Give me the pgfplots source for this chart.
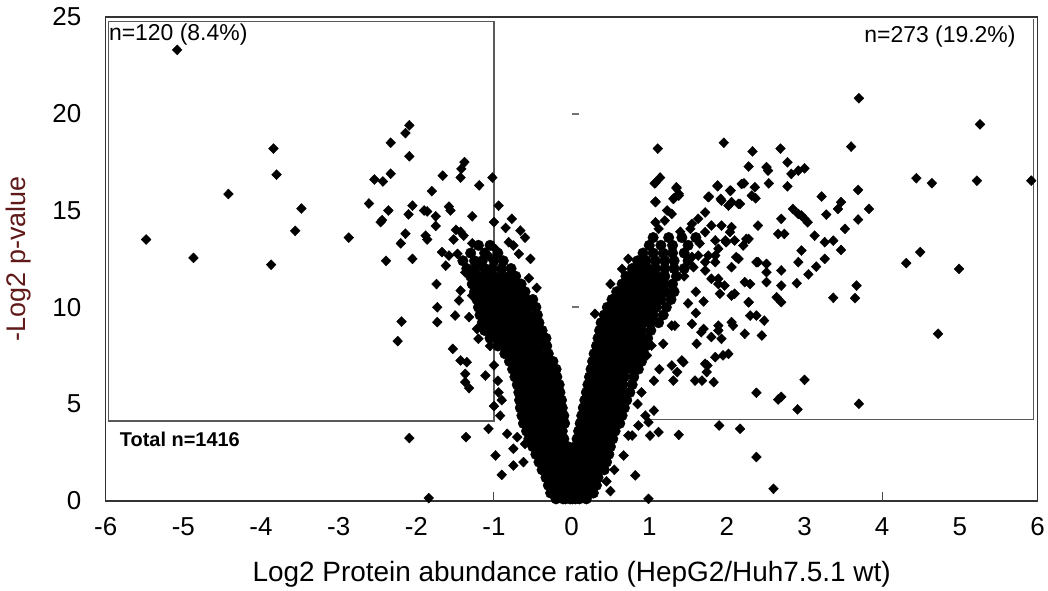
\documentclass[border=0pt]{standalone}
\usepackage{fontspec}
\setmainfont{Liberation Sans}
\usepackage{pgfplots}
\pgfplotsset{compat=1.18}
\definecolor{ylab}{RGB}{95,25,25}
\pgfplotsset{
 scat/.style={only marks, mark=diamond*, mark size=5pt, mark options={xscale=1.3, fill=black, draw=black, line width=0.4pt}},
 core/.style={only marks, mark=*, mark size=5.3pt, mark options={fill=black, draw=black, line width=0.4pt}},
}
\begin{document}
\begin{tikzpicture}
\begin{axis}[
 scale only axis, width=934pt, height=485pt,
 xmin=-6,xmax=6,ymin=0,ymax=25,
 xtick={-6,-5,-4,-3,-2,-1,0,1,2,3,4,5,6}, ytick={0,5,10,15,20,25},
 major tick length=0pt,
 /pgf/number format/assume math mode=true,
 ticklabel style={font=\fontsize{26}{26}\selectfont},
 yticklabel style={xshift=-21pt},
 xticklabel style={yshift=-13pt},
 xlabel={Log2 Protein abundance ratio (HepG2/Huh7.5.1 wt)},
 ylabel={-Log2 p-value},
 label style={font=\fontsize{28}{28}\selectfont},
 xlabel style={at={(axis description cs:0.5,-0.152)}, anchor=center},
 ylabel style={at={(axis description cs:-0.094,0.5)}, anchor=center, color=ylab, font=\fontsize{27}{27}\selectfont},
 axis line style={draw=black!80, line width=1.5pt},
 clip=false,
]
\draw[black!65, line width=1.1pt] (axis cs:-5.965,4.12) -- (axis cs:-1,4.12) -- (axis cs:-1,24.78) -- (axis cs:-5.965,24.78) -- cycle;
\draw[black!65, line width=1.1pt] (axis cs:1,4.2) -- (axis cs:5.95,4.2) -- (axis cs:5.95,24.9);
\draw[black!55, line width=2pt] (axis cs:0.0,20) -- (axis cs:0.1,20);
\draw[black!55, line width=2pt] (axis cs:0.0,10) -- (axis cs:0.1,10);
\draw[black!70, line width=1pt] (axis cs:-1,0) -- (axis cs:-1,0.45);
\draw[black!70, line width=1pt] (axis cs:4,0) -- (axis cs:4,0.45);
\node[anchor=west, inner sep=0pt, font=\fontsize{23}{23}\selectfont] at (axis cs:-5.96,24.1) {n=120 (8.4\%)};
\node[anchor=east, inner sep=0pt, font=\fontsize{23}{23}\selectfont] at (axis cs:5.72,24.0) {n=273 (19.2\%)};
\node[anchor=west, inner sep=0pt, font=\bfseries\fontsize{20}{20}\selectfont] at (axis cs:-5.82,3.15) {Total n=1416};
% left core
\addplot[core] coordinates {
(-0.2,0.1)(-0.11,0.1)(-0.02,0.1)(0.05,0.1)
(-0.27,0.4)(-0.18,0.4)(-0.09,0.4)(0.0,0.4)
(-0.3,0.8)(-0.21,0.8)(-0.12,0.8)(-0.03,0.8)(0.04,0.8)
(-0.33,1.2)(-0.24,1.2)(-0.15,1.2)(-0.06,1.2)(0.02,1.2)
(-0.38,1.6)(-0.29,1.6)(-0.2,1.6)(-0.11,1.6)(-0.03,1.6)
(-0.42,2.0)(-0.33,2.0)(-0.24,2.0)(-0.15,2.0)(-0.06,2.0)
(-0.46,2.4)(-0.37,2.4)(-0.28,2.4)(-0.19,2.4)(-0.1,2.4)(-0.03,2.4)
(-0.5,2.8)(-0.41,2.8)(-0.32,2.8)(-0.23,2.8)(-0.14,2.8)(-0.05,2.8)
(-0.55,3.2)(-0.46,3.2)(-0.37,3.2)(-0.28,3.2)(-0.19,3.2)(-0.1,3.2)
(-0.58,3.6)(-0.49,3.6)(-0.4,3.6)(-0.31,3.6)(-0.22,3.6)(-0.12,3.6)
(-0.62,4.0)(-0.53,4.0)(-0.44,4.0)(-0.35,4.0)(-0.26,4.0)(-0.17,4.0)(-0.09,4.0)
(-0.64,4.4)(-0.55,4.4)(-0.46,4.4)(-0.37,4.4)(-0.28,4.4)(-0.19,4.4)(-0.1,4.4)
(-0.66,4.8)(-0.57,4.8)(-0.48,4.8)(-0.39,4.8)(-0.3,4.8)(-0.21,4.8)(-0.12,4.8)
(-0.67,5.2)(-0.58,5.2)(-0.49,5.2)(-0.4,5.2)(-0.31,5.2)(-0.22,5.2)(-0.13,5.2)
(-0.68,5.6)(-0.59,5.6)(-0.5,5.6)(-0.41,5.6)(-0.32,5.6)(-0.23,5.6)(-0.15,5.6)
(-0.7,6.0)(-0.61,6.0)(-0.52,6.0)(-0.43,6.0)(-0.34,6.0)(-0.25,6.0)(-0.16,6.0)
(-0.73,6.4)(-0.64,6.4)(-0.55,6.4)(-0.46,6.4)(-0.37,6.4)(-0.28,6.4)(-0.19,6.4)
(-0.76,6.8)(-0.67,6.8)(-0.58,6.8)(-0.49,6.8)(-0.4,6.8)(-0.31,6.8)(-0.2,6.8)
(-0.8,7.2)(-0.71,7.2)(-0.62,7.2)(-0.53,7.2)(-0.44,7.2)(-0.35,7.2)(-0.24,7.2)
(-0.86,7.6)(-0.77,7.6)(-0.68,7.6)(-0.59,7.6)(-0.5,7.6)(-0.41,7.6)(-0.3,7.6)
(-0.95,8.0)(-0.86,8.0)(-0.77,8.0)(-0.68,8.0)(-0.59,8.0)(-0.5,8.0)(-0.41,8.0)(-0.32,8.0)
(-1.05,8.4)(-0.96,8.4)(-0.87,8.4)(-0.78,8.4)(-0.69,8.4)(-0.6,8.4)(-0.51,8.4)(-0.42,8.4)(-0.33,8.4)
(-1.12,8.8)(-1.03,8.8)(-0.94,8.8)(-0.85,8.8)(-0.76,8.8)(-0.67,8.8)(-0.58,8.8)(-0.49,8.8)(-0.38,8.8)
(-1.15,9.2)(-1.06,9.2)(-0.97,9.2)(-0.88,9.2)(-0.79,9.2)(-0.7,9.2)(-0.61,9.2)(-0.52,9.2)(-0.42,9.2)
(-1.18,9.6)(-1.09,9.6)(-1.0,9.6)(-0.91,9.6)(-0.82,9.6)(-0.73,9.6)(-0.64,9.6)(-0.55,9.6)(-0.44,9.6)
(-1.2,10.0)(-1.11,10.0)(-1.02,10.0)(-0.93,10.0)(-0.84,10.0)(-0.75,10.0)(-0.66,10.0)(-0.57,10.0)(-0.46,10.0)
(-1.22,10.4)(-1.13,10.4)(-1.04,10.4)(-0.95,10.4)(-0.86,10.4)(-0.77,10.4)(-0.68,10.4)(-0.59,10.4)(-0.5,10.4)
(-1.25,10.8)(-1.16,10.8)(-1.07,10.8)(-0.98,10.8)(-0.89,10.8)(-0.8,10.8)(-0.71,10.8)(-0.6,10.8)
(-1.28,11.2)(-1.19,11.2)(-1.1,11.2)(-1.01,11.2)(-0.92,11.2)(-0.83,11.2)(-0.74,11.2)(-0.65,11.2)
(-1.3,11.6)(-1.2,11.6)(-1.1,11.6)(-1.0,11.6)(-0.9,11.6)(-0.8,11.6)(-0.72,11.6)
(-1.35,12.0)(-1.24,12.0)(-1.12,12.0)(-1.02,12.0)(-0.9,12.0)(-0.78,12.0)
(-1.4,12.4)(-1.25,12.4)(-1.15,12.4)(-1.0,12.4)(-0.88,12.4)
(-1.3,12.8)(-1.12,12.8)(-0.95,12.8)
(-1.2,13.2)(-1.05,13.2)
};
% right core
\addplot[core] coordinates {
(-0.08,0.1)(0.01,0.1)(0.1,0.1)(0.19,0.1)
(-0.05,0.4)(0.04,0.4)(0.13,0.4)(0.22,0.4)(0.28,0.4)
(-0.04,0.8)(0.05,0.8)(0.14,0.8)(0.23,0.8)(0.32,0.8)
(-0.02,1.2)(0.07,1.2)(0.16,1.2)(0.25,1.2)(0.34,1.2)
(0.0,1.6)(0.09,1.6)(0.18,1.6)(0.27,1.6)(0.36,1.6)(0.42,1.6)
(0.02,2.0)(0.11,2.0)(0.2,2.0)(0.29,2.0)(0.38,2.0)(0.45,2.0)
(0.04,2.4)(0.13,2.4)(0.22,2.4)(0.31,2.4)(0.4,2.4)(0.48,2.4)
(0.05,2.8)(0.14,2.8)(0.23,2.8)(0.32,2.8)(0.41,2.8)(0.5,2.8)
(0.07,3.2)(0.16,3.2)(0.25,3.2)(0.34,3.2)(0.43,3.2)(0.53,3.2)
(0.09,3.6)(0.18,3.6)(0.27,3.6)(0.36,3.6)(0.45,3.6)(0.56,3.6)
(0.11,4.0)(0.2,4.0)(0.29,4.0)(0.38,4.0)(0.47,4.0)(0.56,4.0)(0.62,4.0)
(0.13,4.4)(0.22,4.4)(0.31,4.4)(0.4,4.4)(0.49,4.4)(0.58,4.4)(0.65,4.4)
(0.15,4.8)(0.24,4.8)(0.33,4.8)(0.42,4.8)(0.51,4.8)(0.6,4.8)(0.68,4.8)
(0.17,5.2)(0.26,5.2)(0.35,5.2)(0.44,5.2)(0.53,5.2)(0.62,5.2)(0.71,5.2)
(0.19,5.6)(0.28,5.6)(0.37,5.6)(0.46,5.6)(0.55,5.6)(0.64,5.6)(0.75,5.6)
(0.21,6.0)(0.3,6.0)(0.39,6.0)(0.48,6.0)(0.57,6.0)(0.66,6.0)(0.78,6.0)
(0.23,6.4)(0.32,6.4)(0.41,6.4)(0.5,6.4)(0.59,6.4)(0.68,6.4)(0.8,6.4)
(0.25,6.8)(0.34,6.8)(0.43,6.8)(0.52,6.8)(0.61,6.8)(0.7,6.8)(0.79,6.8)(0.86,6.8)
(0.27,7.2)(0.36,7.2)(0.45,7.2)(0.54,7.2)(0.63,7.2)(0.72,7.2)(0.81,7.2)(0.9,7.2)
(0.29,7.6)(0.38,7.6)(0.47,7.6)(0.56,7.6)(0.65,7.6)(0.74,7.6)(0.83,7.6)(0.93,7.6)
(0.32,8.0)(0.41,8.0)(0.5,8.0)(0.59,8.0)(0.68,8.0)(0.77,8.0)(0.86,8.0)(0.96,8.0)
(0.34,8.4)(0.43,8.4)(0.52,8.4)(0.61,8.4)(0.7,8.4)(0.79,8.4)(0.88,8.4)(0.98,8.4)
(0.36,8.8)(0.45,8.8)(0.54,8.8)(0.63,8.8)(0.72,8.8)(0.81,8.8)(0.9,8.8)(1.02,8.8)
(0.38,9.2)(0.47,9.2)(0.56,9.2)(0.65,9.2)(0.74,9.2)(0.83,9.2)(0.92,9.2)(1.01,9.2)(1.12,9.2)
(0.42,9.6)(0.51,9.6)(0.6,9.6)(0.69,9.6)(0.78,9.6)(0.87,9.6)(0.96,9.6)(1.05,9.6)(1.18,9.6)
(0.46,10.0)(0.55,10.0)(0.64,10.0)(0.73,10.0)(0.82,10.0)(0.91,10.0)(1.0,10.0)(1.09,10.0)(1.22,10.0)
(0.52,10.4)(0.61,10.4)(0.7,10.4)(0.79,10.4)(0.88,10.4)(0.97,10.4)(1.06,10.4)(1.15,10.4)(1.28,10.4)
(0.58,10.8)(0.67,10.8)(0.76,10.8)(0.85,10.8)(0.94,10.8)(1.03,10.8)(1.12,10.8)(1.21,10.8)(1.32,10.8)
(0.65,11.2)(0.74,11.2)(0.83,11.2)(0.92,11.2)(1.01,11.2)(1.1,11.2)(1.19,11.2)(1.3,11.2)
(0.7,11.6)(0.8,11.6)(0.9,11.6)(1.0,11.6)(1.1,11.6)(1.2,11.6)(1.35,11.6)
(0.78,12.0)(0.88,12.0)(0.98,12.0)(1.08,12.0)(1.2,12.0)(1.32,12.0)(1.45,12.0)
(0.85,12.4)(0.96,12.4)(1.08,12.4)(1.2,12.4)(1.32,12.4)(1.5,12.4)
(0.92,12.8)(1.05,12.8)(1.18,12.8)(1.3,12.8)(1.45,12.8)
(1.0,13.2)(1.15,13.2)(1.3,13.2)(1.5,13.2)
(1.05,13.6)(1.25,13.6)(1.42,13.6)(1.6,13.6)
};
% scattered, left side
\addplot[scat] coordinates {
(-5.08,23.3)(-5.48,13.5)(-4.87,12.55)(-4.42,15.85)(-3.84,18.2)(-3.80,16.85)(-3.87,12.2)(-3.56,13.95)(-3.48,15.1)(-2.87,13.6)
(-2.61,15.36)(-2.54,16.6)(-2.43,16.5)(-2.33,18.5)(-2.33,16.9)(-2.14,19.0)(-2.09,19.4)(-2.09,17.8)(-2.36,15.0)(-2.44,14.5)(-2.46,14.4)(-2.39,12.4)(-2.05,15.25)(-2.10,14.8)(-1.90,15.0)(-1.86,14.95)(-1.80,16.0)(-1.75,14.7)(-1.75,14.2)(-2.14,13.8)(-2.20,13.3)(-1.88,13.7)(-1.86,13.5)(-2.05,12.5)(-1.66,16.8)(-1.58,15.2)(-1.56,15.0)(-1.43,16.7)(-1.42,17.15)(-1.38,17.5)(-1.28,14.7)(-1.19,16.3)(-1.02,16.7)(-1.49,14.0)(-1.43,13.9)(-1.39,13.7)(-1.52,13.5)(-1.67,12.85)(-1.58,12.67)(-1.47,12.76)(-1.62,12.15)(-1.28,13.3)(-1.74,11.2)(-1.73,10.0)(-1.73,9.23)(-2.19,9.26)(-2.24,8.25)(-1.53,7.85)(-1.43,7.25)(-1.35,7.16)(-1.37,6.56)(-1.37,6.13)(-1.32,5.82)(-1.11,6.47)(-1.45,10.35)(-1.50,9.57)(-1.32,9.49)(-1.22,8.88)(-1.20,8.37)(-1.37,11.8)(-1.24,11.47)(-1.43,10.86)(-1.28,10.6)(-1.15,12.15)(-1.07,12.67)(-0.98,13.0)(-0.94,15.25)(-0.77,14.57)(-0.66,13.96)(-0.81,13.36)(-0.75,13.19)(-0.68,12.76)(-0.53,12.5)
(-2.09,3.24)(-1.36,3.29)(-1.84,0.14)(-1.07,3.72)(-0.98,2.34)(-0.90,1.34)(-1.0,4.89)(-0.94,5.6)(-0.92,4.4)(-0.83,3.46)(-0.75,2.69)(-0.75,1.82)(-0.70,3.29)(-0.62,2.0)(-0.60,2.94)(-0.23,0.27)
(-1.0,7.0)(-0.95,6.2)(-0.9,5.2)(-1.05,8.0)(-0.55,11.5)(-0.45,11.0)(-0.6,13.6)(-0.85,14.1)(-1.0,14.4)(-0.9,11.9)
};
% scattered, right side
\addplot[scat] coordinates {
(1.11,18.2)(1.96,18.5)(2.33,18.05)(2.69,18.2)(3.60,18.3)(3.70,20.8)(5.26,19.45)
(2.28,17.27)(2.51,17.24)(2.53,17.06)(2.78,17.49)(2.83,16.89)(2.92,17.06)(3.00,17.18)
(1.14,16.7)(1.07,16.4)(1.08,15.46)(1.35,16.15)(1.32,15.63)(1.38,15.77)
(1.88,16.25)(2.05,16.03)(2.22,16.4)(2.36,16.2)(2.37,15.63)(2.54,16.4)(2.78,16.25)
(1.77,15.72)(1.92,15.6)(2.02,15.25)(2.15,15.34)
(3.22,15.72)(3.69,16.06)(3.83,15.08)(3.47,15.43)(3.43,15.08)(3.28,14.79)(3.69,14.53)(3.52,14.05)(3.13,13.7)(3.26,13.36)(3.37,13.44)(3.47,12.96)(3.26,12.5)
(2.70,14.57)(2.85,15.08)(2.92,14.82)(3.00,14.57)(3.04,14.39)(2.96,14.74)
(2.66,13.79)(2.74,13.79)
(2.28,13.53)(2.40,14.22)(2.38,12.33)(2.51,11.81)(2.70,11.9)(2.92,12.33)(2.96,12.93)(2.90,11.24)(2.70,11.12)(2.64,10.52)(2.70,10.26)
(3.37,10.49)(3.65,10.47)(3.67,11.12)
(4.44,16.67)(4.64,16.41)(5.22,16.54)(5.92,16.54)
(4.49,12.85)(4.31,12.28)(4.99,11.98)(4.72,8.63)(3.00,6.25)(2.38,5.58)(3.70,5.01)
(1.57,12.07)(1.72,11.9)(2.06,10.6)(2.28,10.26)(2.38,9.57)(2.48,9.31)(2.30,11.2)(2.51,11.3)(1.89,11.2)(1.91,10.7)(1.76,12.67)(1.85,12.33)(2.25,13.53)(2.40,12.33)(2.51,12.24)(1.89,13.02)(1.99,13.36)(2.04,13.88)(2.21,13.19)(2.12,12.59)
(1.70,8.88)(1.61,8.11)(1.80,8.46)(1.89,8.80)(1.93,8.37)(2.08,9.05)(2.23,8.63)(2.45,8.54)
(1.03,8.02)(1.18,8.11)(1.29,6.99)(1.42,7.25)(1.31,6.21)(1.59,6.21)(1.68,6.21)(1.83,6.13)(1.75,6.99)(1.85,7.42)(1.95,7.51)(2.02,7.59)
(1.29,9.05)(1.55,9.14)(2.70,5.37)(0.86,7.33)(0.97,7.51)(1.36,6.65)(1.44,7.16)(1.06,6.2)(1.13,6.8)
(1.72,7.08)(1.74,6.65)
(1.06,4.66)(0.86,3.89)(0.99,4.06)(0.73,3.37)(0.78,3.37)(1.01,3.37)(1.12,3.55)(1.38,3.41)(1.90,3.89)(2.17,3.72)(2.38,2.26)(0.67,2.34)(0.82,1.31)(0.99,0.1)(2.66,5.23)(2.91,4.72)(2.60,0.62)
(1.08,16.43)(1.35,16.2)(1.38,15.86)(1.31,15.6)(1.88,16.29)(2.04,16.03)(2.19,16.37)(1.08,15.43)(1.76,15.69)(1.93,15.51)(2.06,15.43)(2.17,15.34)(2.32,15.77)(1.23,15.0)(1.29,14.82)(1.20,14.48)(1.08,14.39)(1.12,14.05)(1.72,14.9)(1.63,14.57)(1.55,14.31)(1.53,14.05)(1.80,14.22)(1.93,14.22)(2.06,14.14)(1.85,13.45)(1.98,13.45)(2.10,13.45)(1.72,13.88)(2.15,12.5)(2.06,12.07)(1.89,11.47)(1.97,11.12)(2.10,10.7)(2.23,11.3)(2.28,10.26)(2.30,9.57)(2.06,9.23)(1.89,9.05)(1.67,8.71)(1.33,9.05)(1.80,11.47)(1.72,12.33)(1.63,12.67)(1.85,12.67)(0.73,12.5)(0.65,11.98)(0.50,11.2)(0.30,9.66)
(1.5,10.2)(1.6,10.8)(1.45,11.6)(1.55,12.6)(1.65,13.3)(1.4,13.9)(1.6,9.7)(1.7,10.3)(3.05,11.7)(3.15,12.1)
(0.85,5.0)(0.9,5.6)(0.95,4.4)(0.45,1.0)(0.5,0.5)(0.55,1.6)
};
\end{axis}
\path ([shift={(-106pt,-86pt)}]current axis.south west) rectangle +(1048pt,588pt);
\end{tikzpicture}
\end{document}
